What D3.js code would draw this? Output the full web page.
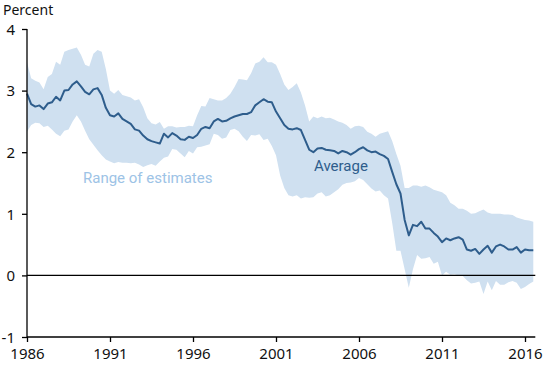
<!DOCTYPE html>
<html>
<head>
<meta charset="utf-8" />
<title>Range of estimates</title>
<script src="https://cdn.jsdelivr.net/npm/d3@7"></script>
<style>
  body { margin: 0; background: #fff; }
  svg text { font-family: "Noto Sans", "DejaVu Sans", sans-serif; }
  svg .tick text { font-size: 15px; fill: #111; }
  svg .band { fill: #cfe0f0; stroke: none; }
  svg .avg { fill: none; stroke: #2e5d8c; stroke-width: 2px; stroke-linejoin: round; }
  svg .zero { stroke: #000; stroke-width: 1.3px; }
  svg .lbl { font-family: Roboto, sans-serif; font-size: 15px; }
</style>
</head>
<body>
<div id="chart"></div>
<script>
var width = 550, height = 365;

// quarterly, starting 1986 Q1
var startYear = 1986;

// average of the estimates
var average = [
  2.95, 2.78, 2.74, 2.76, 2.70, 2.79, 2.81, 2.90, 2.84, 3.00,
  3.01, 3.10, 3.15, 3.07, 2.98, 2.94, 3.02, 3.04, 2.93, 2.72,
  2.60, 2.58, 2.63, 2.54, 2.50, 2.46, 2.37, 2.35, 2.27, 2.21,
  2.18, 2.16, 2.14, 2.30, 2.24, 2.31, 2.27, 2.21, 2.20, 2.25,
  2.23, 2.28, 2.38, 2.41, 2.39, 2.50, 2.54, 2.50, 2.51, 2.55,
  2.58, 2.60, 2.62, 2.62, 2.65, 2.76, 2.81, 2.86, 2.82, 2.81,
  2.66, 2.55, 2.44, 2.38, 2.37, 2.39, 2.36, 2.20, 2.04, 2.00,
  2.06, 2.07, 2.04, 2.03, 2.02, 1.98, 2.02, 2.00, 1.96, 2.00,
  2.05, 2.08, 2.03, 2.00, 2.01, 1.97, 1.94, 1.89, 1.68, 1.48,
  1.33, 0.90, 0.65, 0.82, 0.80, 0.87, 0.76, 0.76, 0.69, 0.63,
  0.54, 0.60, 0.57, 0.60, 0.62, 0.58, 0.42, 0.40, 0.43, 0.35,
  0.42, 0.48, 0.37, 0.47, 0.50, 0.47, 0.42, 0.42, 0.46, 0.37,
  0.42, 0.41, 0.41
];

// top of the range
var high = [
  3.46, 3.20, 3.16, 3.13, 3.02, 3.22, 3.27, 3.47, 3.42, 3.63,
  3.66, 3.68, 3.70, 3.58, 3.42, 3.39, 3.60, 3.66, 3.63, 3.35,
  3.00, 2.95, 3.01, 2.93, 2.91, 2.89, 2.84, 2.86, 2.73, 2.55,
  2.47, 2.45, 2.49, 2.38, 2.42, 2.42, 2.40, 2.41, 2.41, 2.43,
  2.42, 2.60, 2.75, 2.74, 2.88, 2.86, 2.84, 2.84, 2.88, 2.95,
  3.06, 3.19, 3.18, 3.17, 3.28, 3.44, 3.47, 3.54, 3.46, 3.46,
  3.42, 3.27, 3.10, 3.01, 3.06, 3.12, 2.97, 2.76, 2.50, 2.58,
  2.55, 2.58, 2.55, 2.56, 2.53, 2.50, 2.48, 2.44, 2.38, 2.42,
  2.43, 2.41, 2.33, 2.30, 2.25, 2.30, 2.32, 2.34, 2.18, 1.97,
  1.78, 1.42, 1.42, 1.46, 1.46, 1.44, 1.46, 1.43, 1.39, 1.37,
  1.35, 1.30, 1.18, 1.14, 1.08, 1.08, 1.05, 1.00, 1.01, 1.04,
  1.07, 1.02, 1.00, 1.00, 1.00, 0.99, 0.99, 0.98, 0.94, 0.92,
  0.90, 0.89, 0.87
];

// bottom of the range
var low = [
  2.33, 2.44, 2.48, 2.47, 2.41, 2.43, 2.37, 2.30, 2.26, 2.35,
  2.37, 2.50, 2.60, 2.50, 2.35, 2.21, 2.12, 2.03, 1.95, 1.88,
  1.85, 1.82, 1.84, 1.83, 1.83, 1.82, 1.83, 1.80, 1.76, 1.79,
  1.81, 1.78, 1.85, 1.91, 1.93, 2.05, 2.04, 1.98, 1.92, 2.02,
  1.98, 2.08, 2.09, 2.11, 2.13, 2.30, 2.28, 2.22, 2.24, 2.36,
  2.38, 2.34, 2.25, 2.18, 2.28, 2.27, 2.29, 2.20, 2.22, 2.10,
  1.95, 1.62, 1.42, 1.30, 1.28, 1.30, 1.25, 1.27, 1.26, 1.27,
  1.33, 1.35, 1.28, 1.30, 1.35, 1.40, 1.47, 1.50, 1.51, 1.53,
  1.58, 1.55, 1.48, 1.41, 1.36, 1.38, 1.30, 1.25, 0.85, 0.40,
  0.40, 0.10, -0.20, 0.10, 0.33, 0.27, 0.28, 0.30, 0.19, 0.22,
  0.00, 0.06, 0.01, 0.02, 0.00, -0.01, -0.08, -0.13, -0.12, -0.10,
  -0.30, -0.10, -0.24, -0.09, -0.15, -0.15, -0.11, -0.09, -0.12, -0.22,
  -0.19, -0.14, -0.10
];

var xTicks = [1986, 1991, 1996, 2001, 2006, 2011, 2016];
var yTicks = [-1, 0, 1, 2, 3, 4];

var data = average.map(function(v, i) {
  return { t: startYear + i / 4, avg: v, hi: high[i], lo: low[i] };
});

var svg = d3.select("#chart").append("svg")
  .attr("width", width)
  .attr("height", height);

var x = d3.scaleLinear().domain([1986, 2016]).range([27, 525]);
var y = d3.scaleLinear().domain([-1, 4]).range([337, 29]);

// range of estimates
svg.append("path")
  .datum(data)
  .attr("class", "band")
  .attr("d", d3.area()
    .x(function(d) { return x(d.t); })
    .y0(function(d) { return y(d.lo); })
    .y1(function(d) { return y(d.hi); }));

// zero line
svg.append("line")
  .attr("class", "zero")
  .attr("x1", x(1986)).attr("x2", x(data[data.length - 1].t) + 2)
  .attr("y1", y(0)).attr("y2", y(0));

// average
svg.append("path")
  .datum(data)
  .attr("class", "avg")
  .attr("d", d3.line()
    .x(function(d) { return x(d.t); })
    .y(function(d) { return y(d.avg); }));

// axes (plain hyphen for the minus sign, as in the original)
var yAxis = svg.append("g")
  .attr("transform", "translate(" + x(1986) + ",0)")
  .call(d3.axisLeft(y).tickValues(yTicks).tickSize(5).tickPadding(7)
    .tickFormat(function(d) { return String(d); }));

var xAxis = svg.append("g")
  .attr("transform", "translate(0," + y(-1) + ")")
  .call(d3.axisBottom(x).tickValues(xTicks).tickSize(5).tickPadding(6)
    .tickFormat(function(d) { return String(d); }));

[yAxis, xAxis].forEach(function(g) {
  g.select(".domain").attr("stroke", "#000").attr("stroke-width", 1.3);
  g.selectAll(".tick line").attr("stroke", "#000").attr("stroke-width", 1.3);
});
// extend x axis a bit past the last quarter
xAxis.select(".domain").attr("d", "M" + x(1986) + ",0H" + (x(data[data.length - 1].t) + 2));
yAxis.select(".domain").attr("d", "M0," + y(4) + "V" + y(-1));
yAxis.selectAll(".tick text").attr("dy", "0.35em");

svg.append("text")
  .attr("x", 3).attr("y", 15)
  .style("font-size", "14px")
  .attr("fill", "#111")
  .text("Percent");

svg.append("text")
  .attr("class", "lbl")
  .attr("x", 83).attr("y", 183)
  .attr("fill", "#9dc3e6")
  .text("Range of estimates");

svg.append("text")
  .attr("class", "lbl")
  .attr("x", 314).attr("y", 171)
  .attr("fill", "#2e5d8c")
  .text("Average");
</script>
</body>
</html>
